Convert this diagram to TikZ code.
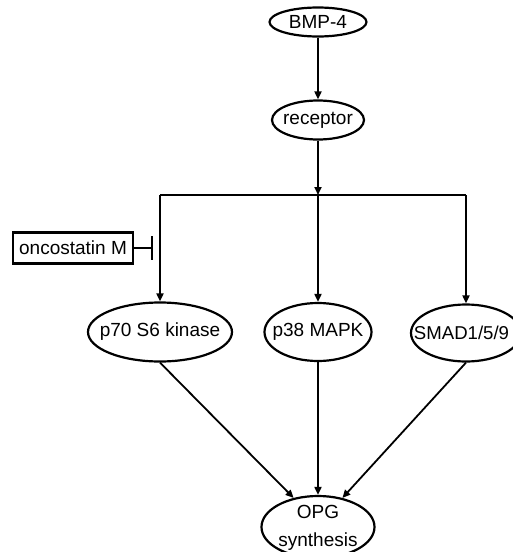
\documentclass[tikz,border=0pt]{standalone}
\usepackage{fontspec}
\setmainfont{Liberation Sans}
\usetikzlibrary{shapes.geometric,arrows.meta}
\begin{document}
\begin{tikzpicture}[x=1pt,y=-1pt,
  txt/.style={font=\fontsize{19}{28}\selectfont,align=center},
  ell/.style={ellipse,draw,line width=2.2pt,inner sep=0pt},
  boxnode/.style={rectangle,draw,line width=2.2pt,inner sep=0pt,font=\fontsize{19}{22}\selectfont},
  conn/.style={line width=1.8pt,-{Triangle[length=8pt,width=7pt]}},
  plain/.style={line width=1.8pt},
  inhib/.style={line width=1.8pt,-{Bar[width=24pt,line width=2pt]}}]
\useasboundingbox (0,0) rectangle (513,552);
\begin{scope}
\clip (0,0) rectangle (513,552);
\node[ell,minimum width=97pt,minimum height=29pt,label={[txt]center:BMP-4}] (bmp) at (318,22) {};
\node[ell,minimum width=92pt,minimum height=39pt,label={[txt]center:receptor}] (rec) at (318,120) {};
\node[ell,minimum width=144pt,minimum height=59pt,label={[txt]center:p70 S6 kinase}] (p70) at (160,332) {};
\node[ell,minimum width=107pt,minimum height=58pt,label={[txt]center:p38 MAPK}] (p38) at (318,332) {};
\node[ell,minimum width=110pt,minimum height=57pt,label={[txt,xshift=-4.5pt,font=\fontsize{18.6}{28}\selectfont]center:SMAD1/5/9}] (smad) at (466,333) {};
\node[ell,minimum width=113pt,minimum height=62pt,label={[txt,yshift=-1pt]center:OPG\\synthesis}] (opg) at (318,527) {};
\node[boxnode,minimum width=120pt,minimum height=31pt] (onc) at (73,248) {oncostatin M};
\coordinate (jl) at (160,195);
\coordinate (jm) at (318,195);
\coordinate (jr) at (466,195);
\coordinate (bar) at (153,248);
\draw[conn] (bmp) -- (rec);
\draw[conn] (rec) -- (jm);
\draw[plain] (jl) -- (jr);
\draw[conn] (jl) -- (p70.north);
\draw[conn] (jm) -- (p38.north);
\draw[conn] (jr) -- (smad.north);
\draw[inhib] (onc.east) -- (bar);
\draw[conn] (p70.south) -- (opg.130);
\draw[conn] (p38.south) -- (opg.north);
\draw[conn] (smad.south) -- (opg.50);
\end{scope}
\end{tikzpicture}
\end{document}
